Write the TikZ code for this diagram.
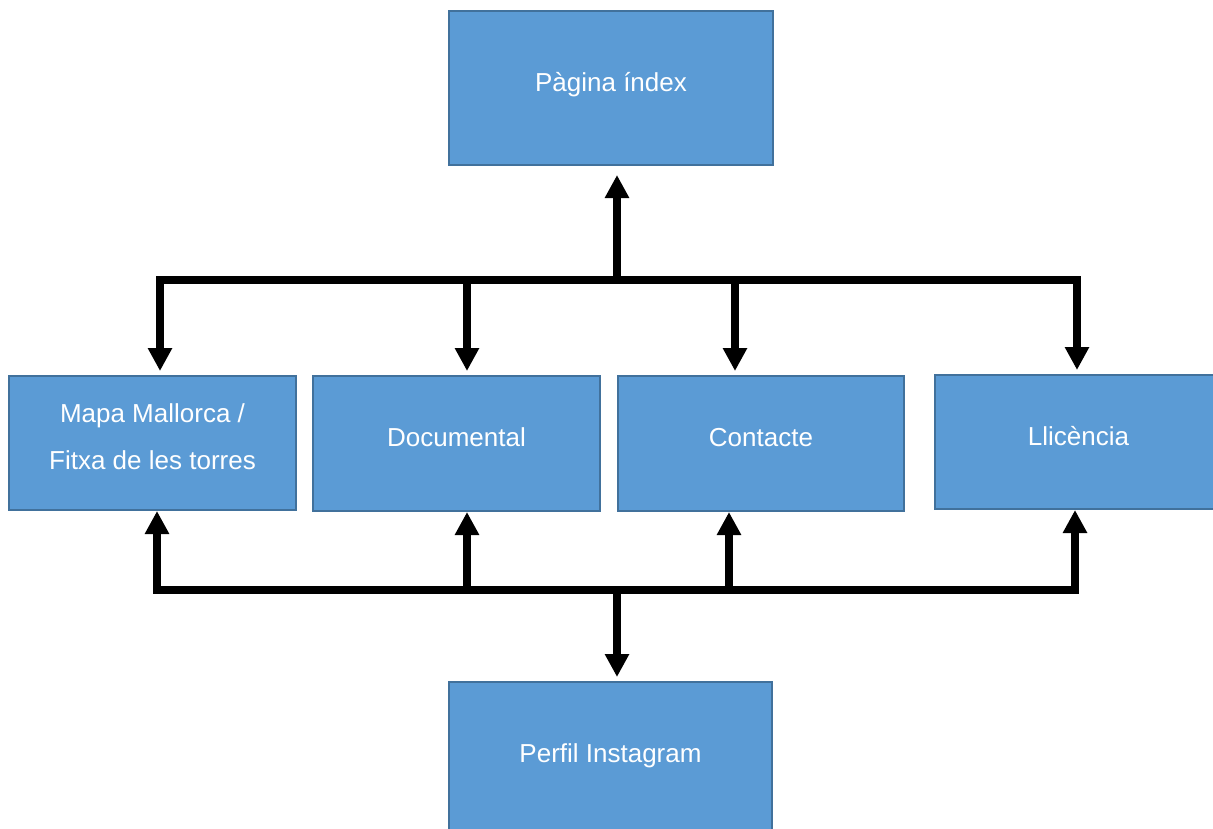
\documentclass[tikz,border=0pt]{standalone}
\usepackage{fontspec}
\setmainfont{Liberation Sans}
\usetikzlibrary{arrows.meta}
\definecolor{boxfill}{HTML}{5B9BD5}
\definecolor{boxline}{HTML}{41719C}
\begin{document}
\begin{tikzpicture}[x=1pt,y=-1pt,
  box/.style={draw=boxline, line width=2pt, fill=boxfill, rectangle,
    text=white, font=\fontsize{26pt}{47pt}\selectfont, inner sep=0pt, align=center},
  lbl/.style={text height=18.6pt, text depth=12pt},
  arr/.style={line width=7.5pt, line join=miter, -{Triangle[width=23pt,length=23pt]}},
  ln/.style={line width=7.5pt}]
\useasboundingbox (0,0) rectangle (1213,828);
\clip (0,0) rectangle (1213,828);
\fill[white] (0,0) rectangle (1213,828);

\node[box, lbl, minimum width=324pt, minimum height=154pt] (top) at (611,88) {Pàgina índex};
\node[box, text depth=13pt, minimum width=287pt, minimum height=134pt] (m1) at (152.5,443) {Mapa Mallorca /\\Fitxa de les torres};
\node[box, lbl, minimum width=287pt, minimum height=135pt] (m2) at (456.5,443.5) {Documental};
\node[box, lbl, minimum width=286pt, minimum height=135pt] (m3) at (761,443.5) {Contacte};
\node[box, lbl, minimum width=287pt, minimum height=134pt] (m4) at (1078.5,442) {Llicència};
\node[box, lbl, minimum width=323pt, minimum height=154pt] (bot) at (610.5,759) {Perfil Instagram};

\coordinate (jt) at (617,280);
\coordinate (t1) at (160,280);
\coordinate (t2) at (467,280);
\coordinate (t3) at (735,280);
\coordinate (t4) at (1077,280);
\coordinate (jb) at (617,590);
\coordinate (b1) at (157,590);
\coordinate (b2) at (467,590);
\coordinate (b3) at (729,590);
\coordinate (b4) at (1075,590);

% top tree
\draw[arr, shorten >=9pt] (jt) -- (jt |- top.south);
\draw[arr, shorten >=4pt] (jt) -| (t1 |- m1.north);
\draw[arr, shorten >=4pt] (jt) -| (t4 |- m4.north);
\draw[arr, shorten >=4pt] (t2) -- (t2 |- m2.north);
\draw[arr, shorten >=4pt] (t3) -- (t3 |- m3.north);

% bottom tree
\draw[arr, shorten >=4pt] (jb) -- (jb |- bot.north);
\draw[arr] (jb) -| (b1 |- m1.south);
\draw[arr] (jb) -| (b4 |- m4.south);
\draw[arr] (b2) -- (b2 |- m2.south);
\draw[arr] (b3) -- (b3 |- m3.south);
\end{tikzpicture}
\end{document}
